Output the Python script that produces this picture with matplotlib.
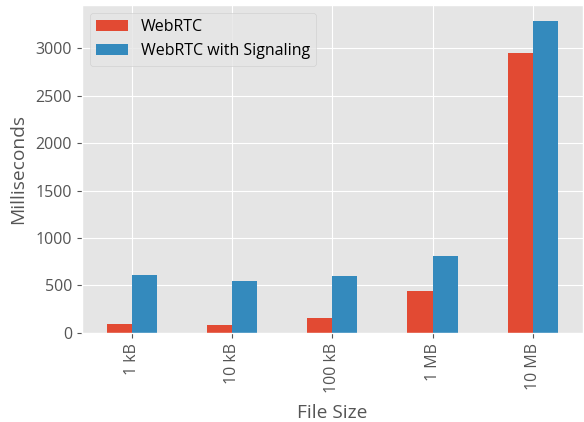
import numpy as np
import matplotlib
matplotlib.use("Agg")
import matplotlib.pyplot as plt

plt.style.use("ggplot")
plt.rcParams["font.family"] = ["Open Sans", "DejaVu Sans"]
plt.rcParams["font.size"] = 11.5

# values (ms)
sizes = ["1 kB", "10 kB", "100 kB", "1 MB", "10 MB"]
webrtc = [97, 80, 158, 440, 2945]
webrtc_signaling = [615, 552, 598, 816, 3290]

fig = plt.figure(figsize=(5.84, 4.22), dpi=100)
ax = fig.add_axes([0.140, 0.211, 0.858, 0.777])

x = np.arange(len(sizes))
w = 0.25
ax.bar(x - w / 2, webrtc, width=w, color="#E24A33", label="WebRTC")
ax.bar(x + w / 2, webrtc_signaling, width=w, color="#348ABD", label="WebRTC with Signaling")

ax.set_xticks(x)
ax.set_xticklabels(sizes, rotation=90)
ax.set_xlim(-0.5, len(sizes) - 0.5)
ax.set_ylim(0, max(webrtc_signaling) * 1.05)
ax.set_xlabel("File Size", labelpad=8)
ax.set_ylabel("Milliseconds", labelpad=6)
ax.legend(loc="upper left")

fig.savefig("out.png", dpi=100)
